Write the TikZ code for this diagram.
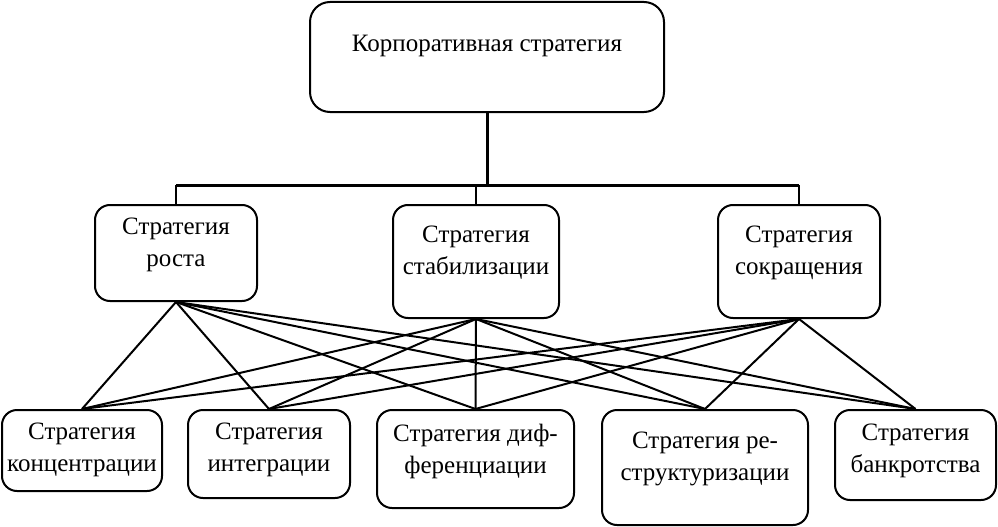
\documentclass[tikz,border=0pt]{standalone}
\usepackage{fontspec}
\setmainfont{Liberation Serif}
\usetikzlibrary{positioning}

\begin{document}
\begin{tikzpicture}[x=1pt,y=-1pt,
    box/.style={draw,rounded corners=15pt,line width=2pt,inner sep=0pt},
    txt/.style={align=center,inner sep=0pt,font=\fontsize{25}{32}\selectfont},
    link/.style={line width=2pt},
    trunk/.style={line width=3pt}]
    \useasboundingbox (0,0) rectangle (998,527);

    % Corporate level
    \node[box,rounded corners=20pt,minimum width=354pt,minimum height=110pt] (corp) at (487,57) {};
    \node[txt,below=34pt of corp.north] (corpT) {Корпоративная стратегия};

    % Basic strategies
    \node[box,minimum width=162pt,minimum height=96pt] (grow) at (176,253) {};
    \node[txt,below=14pt of grow.north] (growT) {Стратегия\\роста};
    \node[box,minimum width=166pt,minimum height=113pt] (stab) at (476,261.5) {};
    \node[txt,below=22pt of stab.north] (stabT) {Стратегия\\стабилизации};
    \node[box,minimum width=162pt,minimum height=113pt] (shrink) at (799,261.5) {};
    \node[txt,below=22pt of shrink.north] (shrinkT) {Стратегия\\сокращения};

    % Lower level
    \node[box,minimum width=160pt,minimum height=81pt] (conc) at (82,450.5) {};
    \node[txt,below=14pt of conc.north] (concT) {Стратегия\\концентрации};
    \node[box,minimum width=162pt,minimum height=88pt] (integ) at (269,454) {};
    \node[txt,below=14pt of integ.north] (integT) {Стратегия\\интеграции};
    \node[box,minimum width=197pt,minimum height=98pt] (diff) at (475.5,459) {};
    \node[txt,below=15pt of diff.north] (diffT) {Стратегия диф-\\ференциации};
    \node[box,minimum width=206pt,minimum height=115pt] (restr) at (705,467.5) {};
    \node[txt,below=23pt of restr.north] (restrT) {Стратегия ре-\\структуризации};
    \node[box,minimum width=161pt,minimum height=90pt] (bankr) at (915.5,455) {};
    \node[txt,below=15pt of bankr.north] (bankrT) {Стратегия\\банкротства};

    % Tree from the top box
    \coordinate (fork) at (corp.south |- 0,185);
    \draw[trunk] (corp.south) -- (fork);
    \draw[trunk] (grow.north |- fork) -- (shrink.north |- fork);
    \foreach \m in {grow,stab,shrink}
        \draw[link] (\m.north) -- (\m.north |- fork);

    % Every basic strategy to every lower one
    \foreach \m in {grow,stab,shrink}
        \foreach \b in {conc,integ,diff,restr,bankr}
            \draw[link] (\m.south) -- (\b.north);
\end{tikzpicture}
\end{document}
